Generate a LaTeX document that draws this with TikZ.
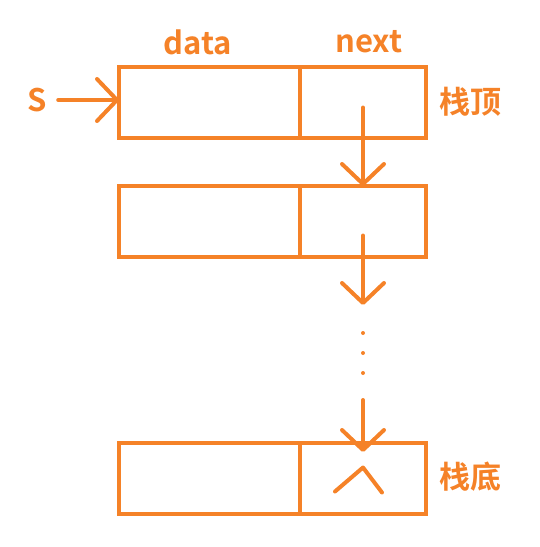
\documentclass[tikz,border=0pt]{standalone}
\usepackage{fontspec}
\setmainfont{Noto Sans CJK SC Bold}
\usetikzlibrary{arrows.meta}
\usetikzlibrary{positioning}
\definecolor{stackorange}{RGB}{245,130,40}

\begin{document}
\begin{tikzpicture}[x=1pt,y=-1pt,
	every node/.style={font=\fontsize{31}{32}\selectfont, text=stackorange},
	field/.style={draw=stackorange, line width=4.5pt, minimum height=71pt, outer sep=0pt, inner sep=0pt},
	datafield/.style={field, minimum width=181pt},
	nextfield/.style={field, minimum width=126pt},
	link/.style={draw=stackorange, line width=4pt, line cap=round, -{Straight Barb[length=20pt,width=42pt,line cap=round,line join=round]}},
	dotmark/.style={circle, fill=stackorange, inner sep=0pt, minimum size=4pt}]
	\useasboundingbox (0,0) rectangle (540,547);
	%stack nodes
	\node[datafield] (d1) at (209.5,102.5) {};
	\node[nextfield, right=0pt of d1] (n1) {};
	\node[datafield, below=48pt of d1] (d2) {};
	\node[nextfield, right=0pt of d2] (n2) {};
	\node[datafield, below=186pt of d2] (d3) {};
	\node[nextfield, right=0pt of d3] (n3) {};
	%labels
	\node (datalbl) at (198,42) {data};
	\node (nextlbl) at (369,42) {next};
	\node (S) at (37,100) {S};
	\node (toplbl) at (470,102) {栈顶};
	\node (bottomlbl) at (470,477) {栈底};
	%dots
	\node[dotmark] (dot1) at (363,333) {};
	\node[dotmark] (dot2) at (363,353) {};
	\node[dotmark] (dot3) at (363,373) {};
	%pointers
	\draw[link] ([xshift=8pt]S.east) -- (S.east -| d1.west);
	\draw[link] ([yshift=-5pt]n1.center) -- (n2.north);
	\draw[link] ([yshift=-14pt]n2.center) -- ([yshift=28pt]dot1.center);
	\draw[link] ([yshift=-27pt]dot3.center) -- ([yshift=-9pt]n3.north);
	%null mark
	\draw[stackorange, line width=4pt, line cap=round, line join=round] ([shift={(-28pt,-13pt)}]n3.center) -- ([yshift=11pt]n3.center) -- ([shift={(19pt,-14pt)}]n3.center);
\end{tikzpicture}
\end{document}
